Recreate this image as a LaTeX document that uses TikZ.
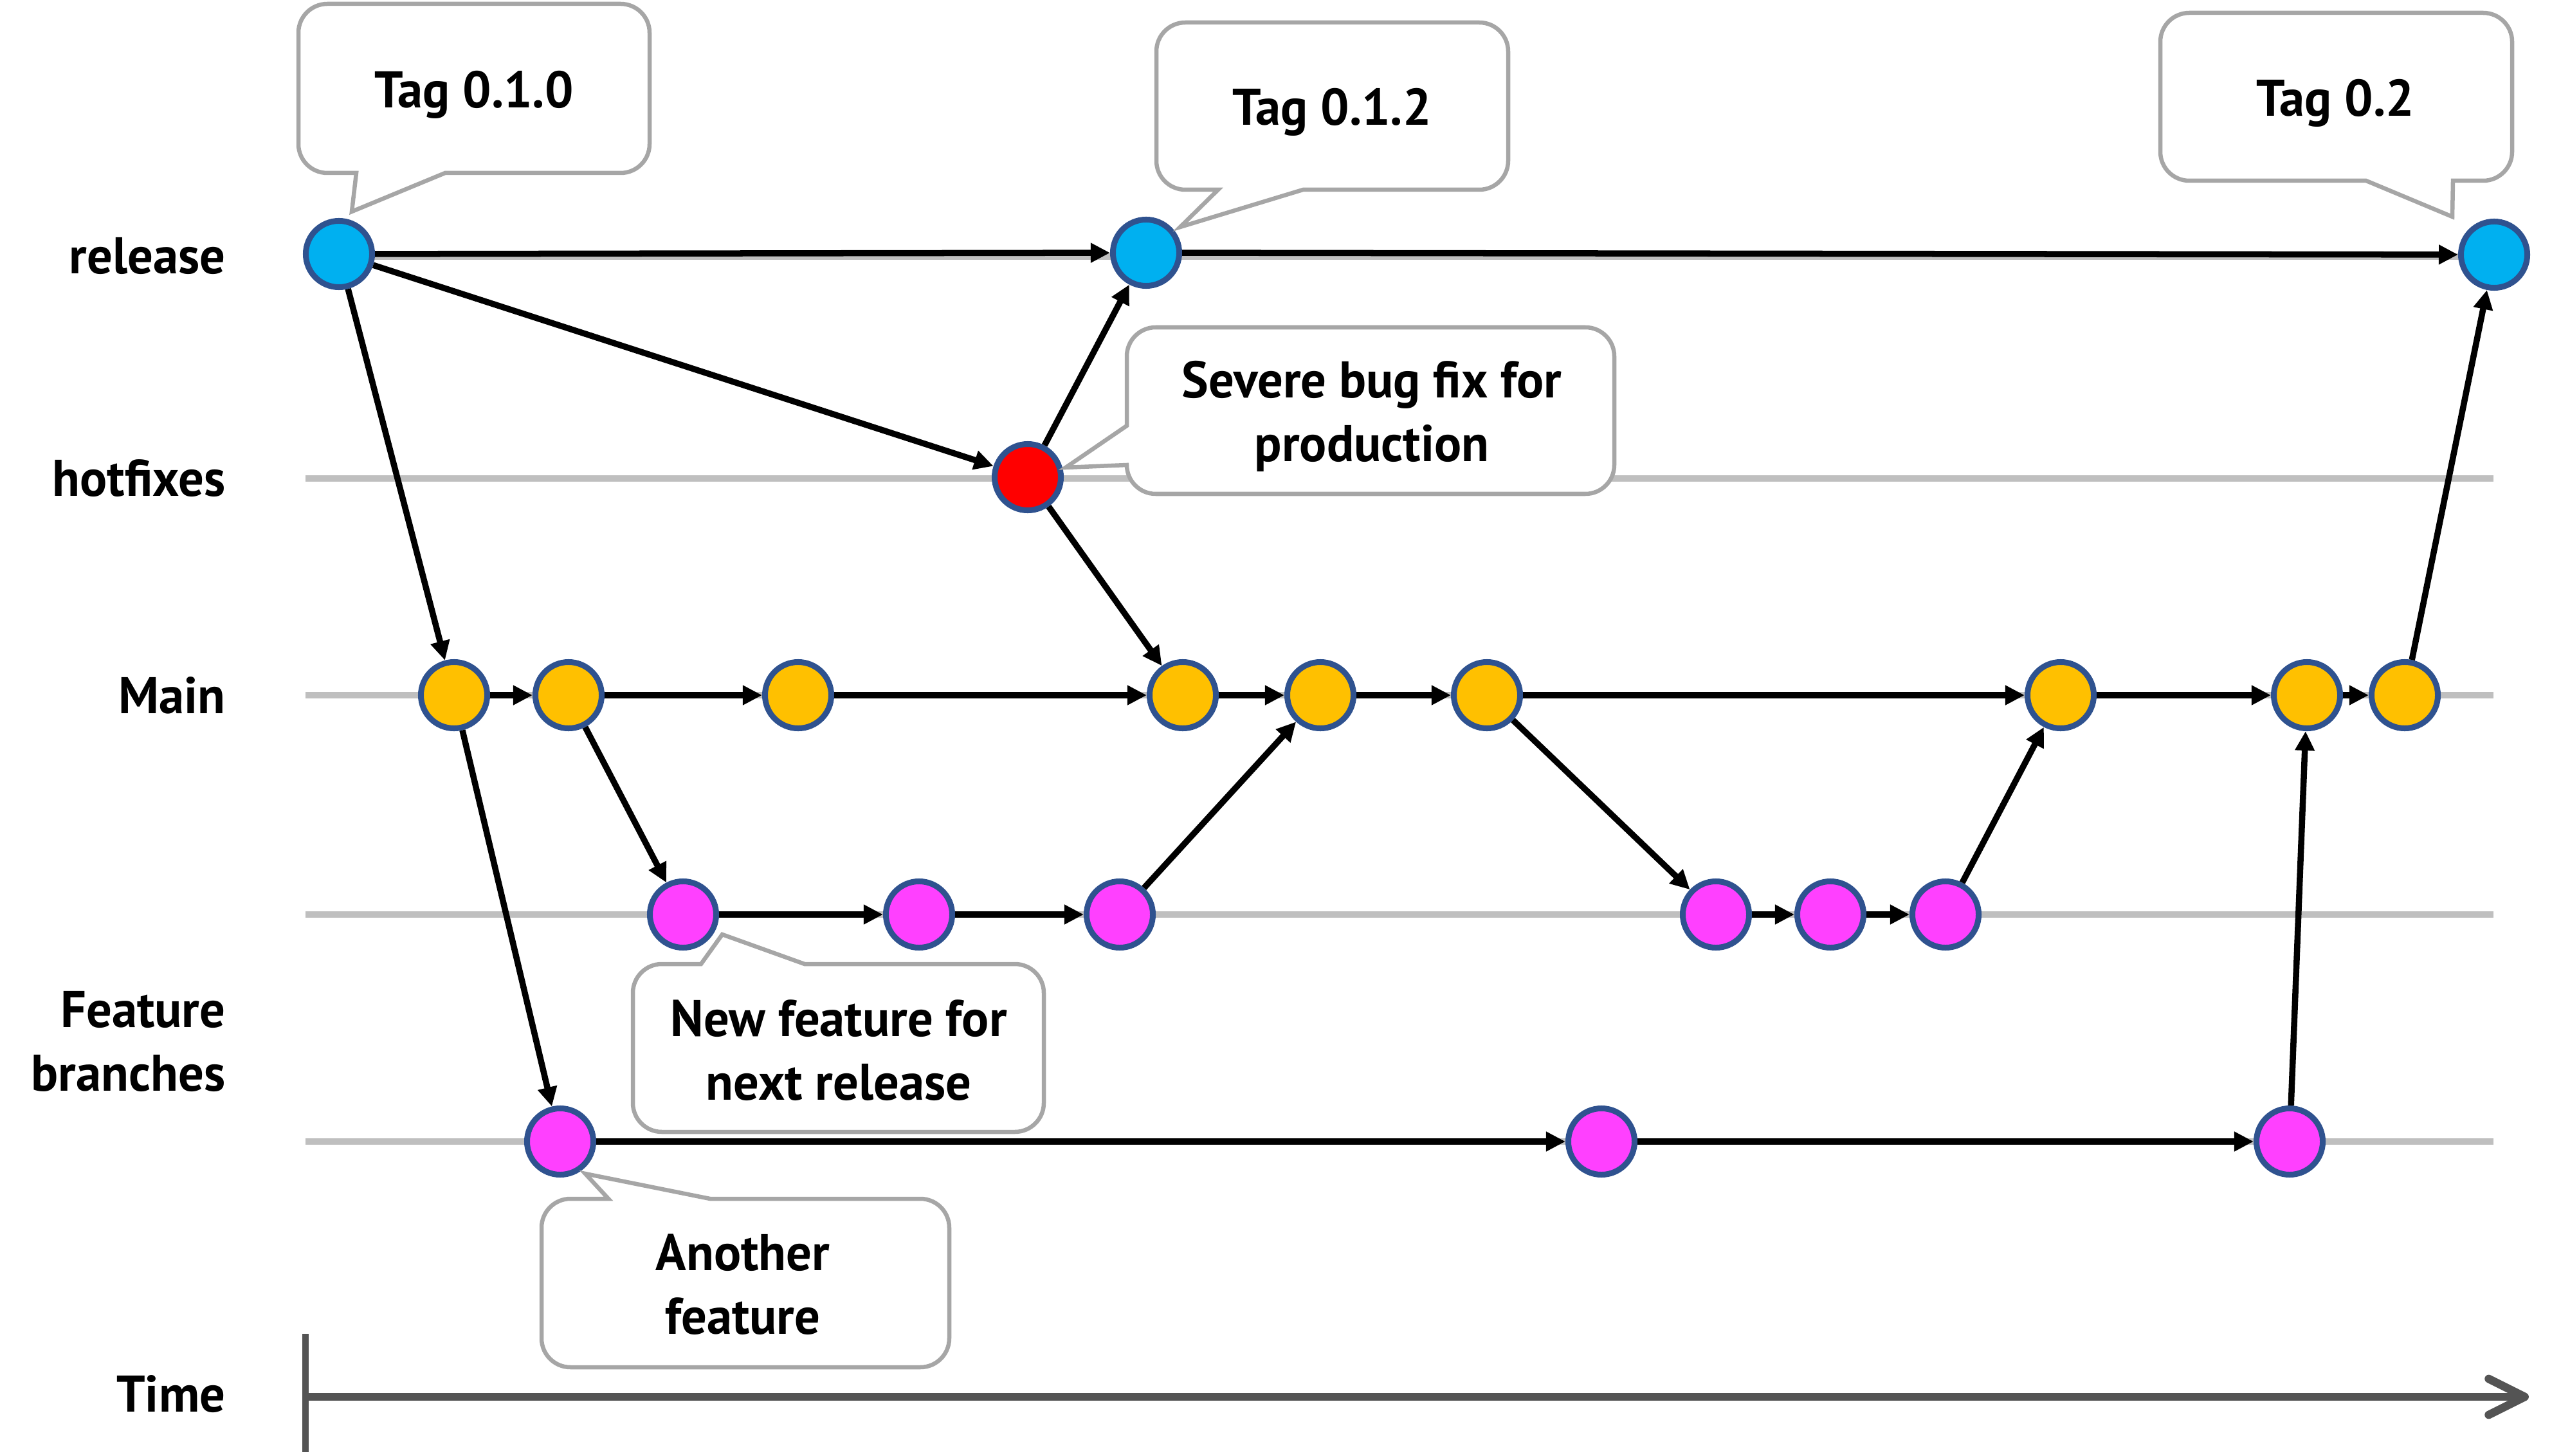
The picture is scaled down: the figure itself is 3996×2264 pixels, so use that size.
\documentclass[tikz,border=0pt]{standalone}
\usepackage{fontspec}
\setmainfont{PT Sans}[FakeStretch=0.98]
\usetikzlibrary{arrows.meta}
\definecolor{relblue}{HTML}{00B0F0}
\definecolor{mainyel}{HTML}{FFC000}
\definecolor{featmag}{HTML}{FF40FF}
\definecolor{fixred}{HTML}{FF0000}
\definecolor{rimblue}{HTML}{2F528F}
\definecolor{lanegray}{HTML}{BFBFBF}
\definecolor{callgray}{HTML}{A6A6A6}
\definecolor{timegray}{HTML}{545454}
\newcommand\dgfont{\fontsize{22.8pt}{28pt}\selectfont\bfseries}
\begin{document}
\begin{tikzpicture}[x=0.01cm,y=-0.01cm,
  commit/.style={circle, draw=rimblue, line width=0.09cm, minimum size=1.03cm, inner sep=0pt},
  rel/.style={commit, fill=relblue},
  fix/.style={commit, fill=fixred},
  mainc/.style={commit, fill=mainyel},
  feat/.style={commit, fill=featmag},
  lane/.style={line width=0.095cm, lanegray},
  flow/.style={-{Triangle[length=0.3cm,width=0.29cm]}, line width=0.095cm, black},
  callout/.style={draw=callgray, line width=0.065cm, fill=white, line join=miter},
  ctext/.style={font=\dgfont, align=center, anchor=base, inner sep=0pt},
  lbl/.style={font=\dgfont, align=right, anchor=base east, inner sep=0pt},
  timeax/.style={line width=0.127cm, timegray, -{Straight Barb[length=0.56cm,width=0.56cm,round]}}]
\useasboundingbox (0,0) rectangle (3996,2264);

% lanes
\coordinate (l1a) at (475,399); \coordinate (l1b) at (3877,399);
\coordinate (l2a) at (475,744); \coordinate (l2b) at (3877,744);
\coordinate (l3a) at (475,1081); \coordinate (l3b) at (3877,1081);
\coordinate (l4a) at (475,1422); \coordinate (l4b) at (3877,1422);
\coordinate (l5a) at (475,1775); \coordinate (l5b) at (3877,1775);
\draw[lane] (l1a) -- (l1b);
\draw[lane] (l2a) -- (l2b);
\draw[lane] (l3a) -- (l3b);
\draw[lane] (l4a) -- (l4b);
\draw[lane] (l5a) -- (l5b);

% time axis
\coordinate (tk0) at (475,2074); \coordinate (tk1) at (475,2258);
\coordinate (t0) at (475,2172); \coordinate (t1) at (3932,2172);
\draw[line width=0.1cm, timegray] (tk0) -- (tk1);
\draw[timeax] (t0) -- (t1);

% labels
\node[lbl] (lrel) at (351,426) {release};
\node[lbl] (lhot) at (351,771) {hotfixes};
\node[lbl] (lmain) at (351,1109) {Main};
\node[lbl] (lfeat) at (351,1696) {Feature\\branches};
\node[lbl] (ltime) at (351,2195) {Time};

% commits
\node[rel] (R1) at (527,395) {};
\node[rel] (R2) at (1782,393) {};
\node[rel] (R3) at (3878,396) {};
\node[fix] (H) at (1598,742) {};
\node[mainc] (M1) at (706,1081) {};
\node[mainc] (M2) at (884,1081) {};
\node[mainc] (M3) at (1241,1081) {};
\node[mainc] (M4) at (1839,1081) {};
\node[mainc] (M5) at (2053,1081) {};
\node[mainc] (M6) at (2312,1081) {};
\node[mainc] (M7) at (3204,1081) {};
\node[mainc] (M8) at (3587,1081) {};
\node[mainc] (M9) at (3739,1081) {};
\node[feat] (F1) at (1062,1422) {};
\node[feat] (F2) at (1429,1422) {};
\node[feat] (F3) at (1741,1422) {};
\node[feat] (F4) at (2668,1422) {};
\node[feat] (F5) at (2846,1422) {};
\node[feat] (F6) at (3025,1422) {};
\node[feat] (G1) at (871,1775) {};
\node[feat] (G2) at (2490,1775) {};
\node[feat] (G3) at (3560,1775) {};

% connectors
\draw[flow] (R1) -- (R2);
\draw[flow] (R2) -- (R3);
\draw[flow] (R1) -- (H);
\draw[flow] (R1) -- (M1);
\draw[flow] (H) -- (R2);
\draw[flow] (H) -- (M4);
\draw[flow] (M1) -- (M2);
\draw[flow] (M2) -- (M3);
\draw[flow] (M3) -- (M4);
\draw[flow] (M4) -- (M5);
\draw[flow] (M5) -- (M6);
\draw[flow] (M6) -- (M7);
\draw[flow] (M7) -- (M8);
\draw[flow] (M8) -- (M9);
\draw[flow] (M9) -- (R3);
\draw[flow] (M1) -- (G1);
\draw[flow] (M2) -- (F1);
\draw[flow] (F1) -- (F2);
\draw[flow] (F2) -- (F3);
\draw[flow] (F3) -- (M5);
\draw[flow] (M6) -- (F4);
\draw[flow] (F4) -- (F5);
\draw[flow] (F5) -- (F6);
\draw[flow] (F6) -- (M7);
\draw[flow] (G1) -- (G2);
\draw[flow] (G2) -- (G3);
\draw[flow] (G3) -- (M8);

% callouts
\draw[callout] (509,6) -- (965,6) arc[start angle=270,end angle=360,radius=45]
  -- (1010,224) arc[start angle=0,end angle=90,radius=45]
  -- (692,269) -- (547,329) -- (554,269)
  -- (509,269) arc[start angle=90,end angle=180,radius=45]
  -- (464,51) arc[start angle=180,end angle=270,radius=45] -- cycle;
\node[ctext] (c1) at (737,168) {Tag 0.1.0};

\draw[callout] (1843,35) -- (2300,35) arc[start angle=270,end angle=360,radius=45]
  -- (2345,250) arc[start angle=0,end angle=90,radius=45]
  -- (2026,295) -- (1835,353) -- (1894,295)
  -- (1843,295) arc[start angle=90,end angle=180,radius=45]
  -- (1798,80) arc[start angle=180,end angle=270,radius=45] -- cycle;
\node[ctext] (c2) at (2071,195) {Tag 0.1.2};

\draw[callout] (3404,20) -- (3861,20) arc[start angle=270,end angle=360,radius=45]
  -- (3906,236) arc[start angle=0,end angle=90,radius=45]
  -- (3814,281) -- (3813,337) -- (3679,281)
  -- (3404,281) arc[start angle=90,end angle=180,radius=45]
  -- (3359,65) arc[start angle=180,end angle=270,radius=45] -- cycle;
\node[ctext] (c3) at (3631,181) {Tag 0.2};

\draw[callout] (1797,509) -- (2465,509) arc[start angle=270,end angle=360,radius=45]
  -- (2510,723) arc[start angle=0,end angle=90,radius=45]
  -- (1797,768) arc[start angle=90,end angle=180,radius=45]
  -- (1657,727) -- (1752,662)
  -- (1752,554) arc[start angle=180,end angle=270,radius=45] -- cycle;
\node[ctext] (c4) at (2133,717) {Severe bug fix for\\production};

\draw[callout] (1029,1499) -- (1090,1499) -- (1123,1453) -- (1251,1499)
  -- (1578,1499) arc[start angle=270,end angle=360,radius=45]
  -- (1623,1715) arc[start angle=0,end angle=90,radius=45]
  -- (1029,1760) arc[start angle=90,end angle=180,radius=45]
  -- (984,1544) arc[start angle=180,end angle=270,radius=45] -- cycle;
\node[ctext] (c5) at (1304,1710) {New feature for\\next release};

\draw[callout] (887,1864) -- (946,1864) -- (910,1825) -- (1104,1864)
  -- (1431,1864) arc[start angle=270,end angle=360,radius=45]
  -- (1476,2081) arc[start angle=0,end angle=90,radius=45]
  -- (887,2126) arc[start angle=90,end angle=180,radius=45]
  -- (842,1909) arc[start angle=180,end angle=270,radius=45] -- cycle;
\node[ctext] (c6) at (1155,2074) {Another\\feature};
\end{tikzpicture}
\end{document}
